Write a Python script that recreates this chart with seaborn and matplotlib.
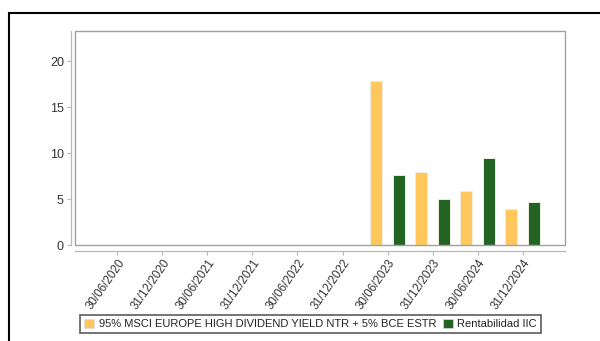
import matplotlib
matplotlib.use("Agg")
import matplotlib.pyplot as plt
from matplotlib.patches import Rectangle, Patch
import pandas as pd
import seaborn as sns

# Period-end dates on the category axis
dates = ["30/06/2020", "31/12/2020", "30/06/2021", "31/12/2021", "30/06/2022",
         "31/12/2022", "30/06/2023", "31/12/2023", "30/06/2024", "31/12/2024"]

# Returns (%) for the periods that have data
data_dates = ["30/06/2023", "31/12/2023", "30/06/2024", "31/12/2024"]
benchmark = [17.9, 7.9, 5.83, 3.88]
fund = [7.63, 5.04, 9.5, 4.68]

bench_name = "95% MSCI EUROPE HIGH DIVIDEND YIELD NTR + 5% BCE ESTR"
fund_name = "Rentabilidad IIC"
series_names = [bench_name, fund_name]
colors = ["#FFC75C", "#236323"]

df = pd.DataFrame({
    "fecha": data_dates * 2,
    "valor": benchmark + fund,
    "serie": [bench_name] * len(benchmark) + [fund_name] * len(fund),
})

sns.set_theme(style="white")
plt.rcParams["font.family"] = ["Liberation Sans", "DejaVu Sans"]

fig = plt.figure(figsize=(6.0, 3.41), dpi=100)
W, H = 600, 341
ax = fig.add_axes([75 / W, (H - 245) / H, (565 - 75) / W, (245 - 31) / H])

sns.barplot(data=df, x="fecha", y="valor", hue="serie", order=dates,
            hue_order=series_names, palette=colors, width=1.0, gap=0.47,
            edgecolor="#eeeedd", linewidth=0.7, saturation=1, ax=ax,
            legend=False)

ax.set_xlim(-0.944, 9.944)
ax.set_ylim(0, 23.3)
ax.set_yticks([0, 5, 10, 15, 20])
ax.set_xlabel("")
ax.set_ylabel("")

# Offset axis lines with the plot frame drawn separately
for side in ["top", "right"]:
    ax.spines[side].set_visible(False)
ax.spines["left"].set_position(("outward", 3))
ax.spines["bottom"].set_position(("outward", 4))
for side in ["left", "bottom"]:
    ax.spines[side].set_color("#b8b8b8")
    ax.spines[side].set_linewidth(0.9)
ax.add_patch(Rectangle((0, 0), 1, 1, transform=ax.transAxes, fill=False,
                       edgecolor="#a0a0a0", linewidth=1.0, clip_on=False,
                       zorder=5))

ax.tick_params(axis="both", which="both", length=3, width=0.8,
               color="#b8b8b8", labelcolor="#333333", left=True, bottom=True)
ax.tick_params(axis="y", labelsize=9, pad=2)
ax.tick_params(axis="x", labelsize=8.4, pad=2)
for lbl in ax.get_xticklabels():
    lbl.set_rotation(55)
    lbl.set_ha("right")
    lbl.set_rotation_mode("anchor")

handles = [Patch(facecolor=c, edgecolor="#dddddd", linewidth=0.5) for c in colors]
leg = fig.legend(handles, series_names, loc="lower center", ncol=2,
                 bbox_to_anchor=(310.5 / W, 2.5 / H), fontsize=8,
                 frameon=True, fancybox=False, handlelength=0.9,
                 handleheight=0.9, handletextpad=0.4, columnspacing=0.6,
                 borderpad=0.35, labelcolor="#222222")
leg.get_frame().set_edgecolor("#333333")
leg.get_frame().set_linewidth(1.2)

# Outer frame running off the right and bottom edges
fig.patches.append(Rectangle((9 / W, -0.2), 1.0, (H - 12.5) / H + 0.2,
                             transform=fig.transFigure, fill=False,
                             edgecolor="black", linewidth=1.5))

fig.savefig("out.png", dpi=100)
